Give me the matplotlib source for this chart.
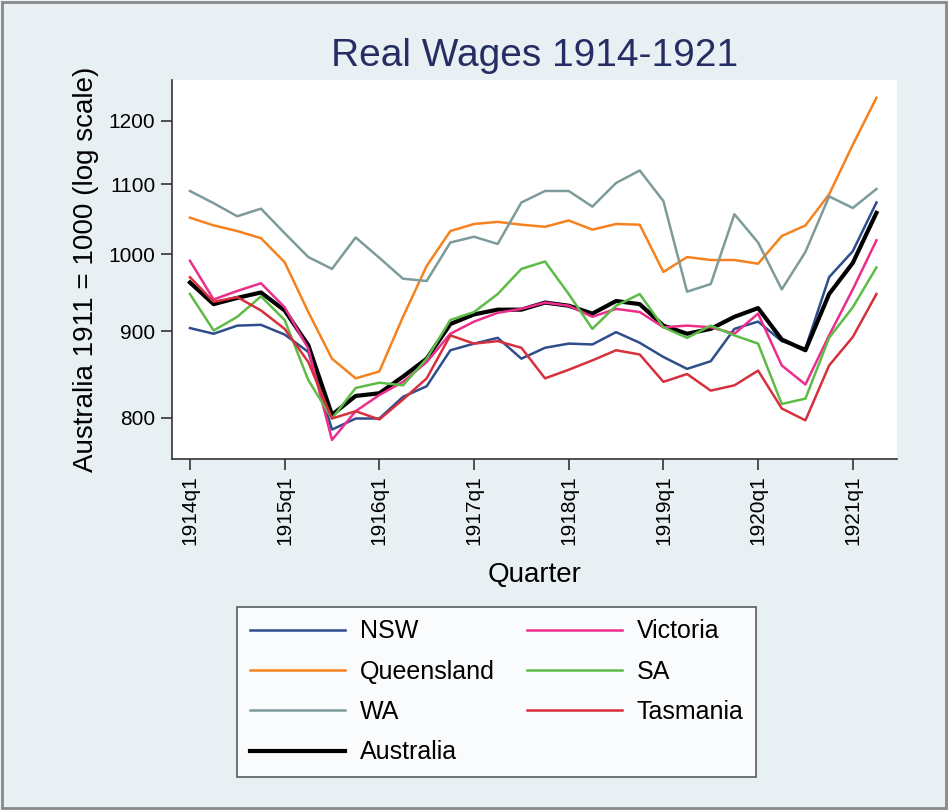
import matplotlib
matplotlib.use('Agg')
import matplotlib.pyplot as plt
from matplotlib.ticker import FixedLocator, NullLocator, FixedFormatter
from matplotlib.patches import Rectangle
import numpy as np

plt.rcParams['font.family'] = ['Liberation Sans', 'DejaVu Sans']

# quarters 1914q1 .. 1921q2 (index 0..29)
quarter = np.arange(30)
year_ticks = [0, 4, 8, 12, 16, 20, 24, 28]
year_labels = ['1914q1', '1915q1', '1916q1', '1917q1', '1918q1', '1919q1', '1920q1', '1921q1']
y_ticks = [800, 900, 1000, 1100, 1200]

nsw = [904, 897, 907, 908, 896, 875, 787, 799, 799, 823, 835, 877, 885, 892, 867,
       880, 885, 884, 899, 886, 869, 855, 864, 903, 912, 888, 879, 969, 1004, 1073]
queensland = [1051, 1040, 1032, 1022, 989, 924, 867, 844, 852, 918, 984, 1032, 1042, 1045, 1041,
              1038, 1047, 1034, 1042, 1041, 976, 996, 992, 992, 987, 1025, 1040, 1085, 1161, 1238]
wa = [1090, 1072, 1053, 1064, 1029, 996, 980, 1023, 995, 967, 964, 1016, 1024, 1014, 1073,
      1090, 1090, 1067, 1102, 1121, 1075, 950, 960, 1056, 1016, 953, 1003, 1082, 1065, 1093]
victoria = [991, 940, 951, 961, 930, 879, 776, 807, 825, 840, 863, 897, 912, 923, 928,
            936, 932, 918, 928, 924, 905, 907, 905, 897, 922, 859, 837, 895, 953, 1019]
sa = [947, 901, 918, 944, 914, 842, 799, 833, 839, 836, 867, 914, 924, 947, 980,
      990, 947, 903, 932, 947, 905, 892, 907, 895, 885, 815, 821, 892, 930, 982]
tasmania = [969, 937, 943, 926, 903, 863, 799, 807, 798, 820, 844, 895, 885, 888, 880,
            844, 854, 865, 877, 872, 840, 849, 830, 836, 853, 810, 797, 859, 893, 947]
australia = [962, 934, 942, 949, 926, 883, 803, 824, 827, 846, 867, 909, 921, 927, 927,
             936, 932, 922, 938, 934, 907, 897, 903, 918, 929, 890, 877, 947, 988, 1058]

bg = '#e9f0f3'
fig = plt.figure(figsize=(9.48, 8.10), dpi=100, facecolor=bg)
ax = fig.add_axes([0.1814, 0.4333, 0.7646, 0.4677])
ax.set_facecolor('white')

lw = 1.8
ax.plot(quarter, nsw, color='#2e4d8b', lw=lw, label='NSW')
ax.plot(quarter, queensland, color='#f5821f', lw=lw, label='Queensland')
ax.plot(quarter, wa, color='#7d9b9b', lw=lw, label='WA')
ax.plot(quarter, australia, color='black', lw=3.0, label='Australia')
ax.plot(quarter, victoria, color='#ec2d8c', lw=lw, label='Victoria')
ax.plot(quarter, sa, color='#5dbb46', lw=lw, label='SA')
ax.plot(quarter, tasmania, color='#d7303d', lw=lw, label='Tasmania')

ax.set_yscale('log')
ax.set_ylim(756, 1268)
ax.set_xlim(-0.76, 29.86)
ax.yaxis.set_major_locator(FixedLocator(y_ticks))
ax.yaxis.set_major_formatter(FixedFormatter([str(v) for v in y_ticks]))
ax.yaxis.set_minor_locator(NullLocator())
ax.set_xticks(year_ticks)
ax.set_xticklabels(year_labels, rotation=90)

for s in ['top', 'right']:
    ax.spines[s].set_visible(False)
for s in ['left', 'bottom']:
    ax.spines[s].set_color('#333333')
    ax.spines[s].set_linewidth(1.2)
ax.tick_params(axis='both', length=8, width=1.2, color='#333333', labelsize=15, pad=4)

ax.set_ylabel('Australia 1911 = 1000 (log scale)', fontsize=20, labelpad=7)
ax.set_xlabel('Quarter', fontsize=20, labelpad=12)
ax.set_title('Real Wages 1914-1921', fontsize=28, color='#252d63', pad=10)

leg = ax.legend(ncol=2, loc='upper left', bbox_to_anchor=(237 / 948, 1 - 607 / 810),
                bbox_transform=fig.transFigure,
                fontsize=18, frameon=True, fancybox=False, handlelength=3.8,
                handletextpad=0.6, columnspacing=1.3, labelspacing=0.65,
                borderpad=0.5, borderaxespad=0, edgecolor='#333333')
leg.get_frame().set_linewidth(1.2)

fig.patches.append(Rectangle((0.002, 0.002), 0.996, 0.996, transform=fig.transFigure,
                             fill=False, edgecolor='#888888', lw=2))

fig.savefig('out.png', dpi=100, facecolor=bg)
